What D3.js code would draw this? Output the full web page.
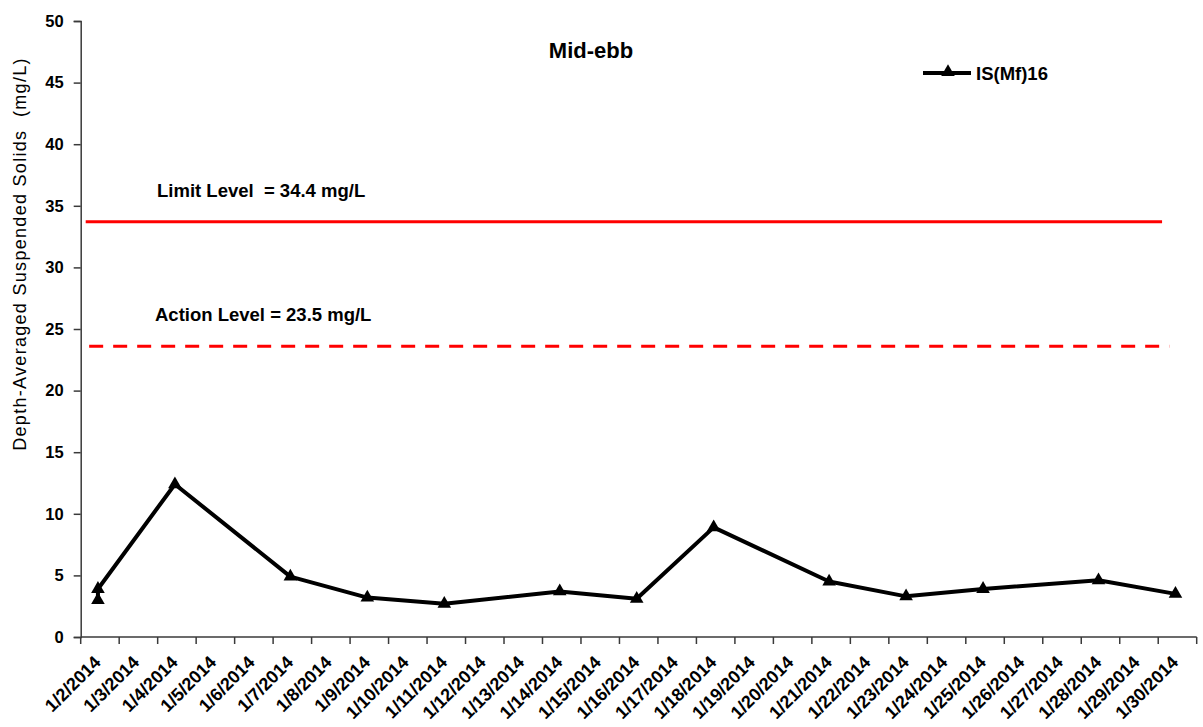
<!DOCTYPE html>
<html>
<head>
<meta charset="utf-8">
<script src="https://cdn.jsdelivr.net/npm/d3@7"></script>
<style>
  html, body { margin: 0; padding: 0; background: #fff; }
  svg { display: block; font-family: "Liberation Sans", Arial, sans-serif; }
</style>
</head>
<body>
<svg id="chart" width="1203" height="727"></svg>
<script>
// ---- Data ----
const categories = ["1/2/2014","1/3/2014","1/4/2014","1/5/2014","1/6/2014","1/7/2014","1/8/2014","1/9/2014","1/10/2014","1/11/2014","1/12/2014","1/13/2014","1/14/2014","1/15/2014","1/16/2014","1/17/2014","1/18/2014","1/19/2014","1/20/2014","1/21/2014","1/22/2014","1/23/2014","1/24/2014","1/25/2014","1/26/2014","1/27/2014","1/28/2014","1/29/2014","1/30/2014"];
const sampleDates = ["1/2/2014","1/2/2014","1/4/2014","1/7/2014","1/9/2014","1/11/2014","1/14/2014","1/16/2014","1/18/2014","1/21/2014","1/23/2014","1/25/2014","1/28/2014","1/30/2014"];
const sampleValues = [3.0, 3.9, 12.4, 4.9, 3.2, 2.7, 3.7, 3.1, 8.9, 4.5, 3.3, 3.9, 4.6, 3.5];
const seriesName = "IS(Mf)16";
const yTicks = [0, 5, 10, 15, 20, 25, 30, 35, 40, 45, 50];
const limitLevel = 33.7;   // drawn position
const actionLevel = 23.6;  // drawn position
const limitLabel = "Limit Level  = 34.4 mg/L";
const actionLabel = "Action Level = 23.5 mg/L";
const limitSpan = [0.13, 28.1];   // in category-index units
const actionSpan = [0.22, 28.29];
const chartTitle = "Mid-ebb";
const yTitle = "Depth-Averaged Suspended Solids  (mg/L)";

// ---- Layout ----
const svg = d3.select("#chart");
const pL = 80.7, pR = 1196.7, pT = 21, pB = 637;

const x = d3.scaleBand().domain(categories).range([pL, pR]).padding(0);
const xi = d3.scaleLinear().domain([0, categories.length]).range([pL, pR]);
const y = d3.scaleLinear().domain([0, 50]).range([pB, pT]);

const axisColor = "#3a3a3a";

// Y axis
const yAxis = svg.append("g")
  .attr("transform", `translate(${pL},0)`)
  .call(d3.axisLeft(y).tickValues(yTicks).tickSize(7).tickPadding(10).tickFormat(d3.format("d")));
yAxis.select(".domain").attr("stroke", axisColor).attr("stroke-width", 1.5);
yAxis.selectAll(".tick line").attr("stroke", axisColor).attr("stroke-width", 1.5);
yAxis.selectAll(".tick text")
  .attr("font-size", "16.5px").attr("font-weight", "bold").attr("fill", "#000")
  .attr("font-family", "Liberation Sans, Arial, sans-serif");

// X axis line
svg.append("line")
  .attr("x1", pL).attr("x2", pR).attr("y1", pB).attr("y2", pB)
  .attr("stroke", axisColor).attr("stroke-width", 1.5);

// X ticks at category boundaries
svg.append("g").selectAll("line")
  .data(d3.range(categories.length + 1))
  .join("line")
  .attr("x1", d => xi(d)).attr("x2", d => xi(d))
  .attr("y1", pB).attr("y2", pB + 7)
  .attr("stroke", axisColor).attr("stroke-width", 1.5);

// X labels
svg.append("g").selectAll("text")
  .data(categories)
  .join("text")
  .attr("transform", d => `translate(${x(d) + x.bandwidth() / 2 - 2.5},${pB + 22}) rotate(-45)`)
  .attr("text-anchor", "end")
  .attr("dy", "0.35em")
  .attr("font-size", "18px")
  .attr("font-weight", "bold")
  .attr("fill", "#000")
  .text(d => d);

// Reference lines
svg.append("line")
  .attr("x1", xi(limitSpan[0])).attr("x2", xi(limitSpan[1]))
  .attr("y1", y(limitLevel)).attr("y2", y(limitLevel))
  .attr("stroke", "#ff0000").attr("stroke-width", 3);
svg.append("line")
  .attr("x1", xi(actionSpan[0])).attr("x2", xi(actionSpan[1]))
  .attr("y1", y(actionLevel)).attr("y2", y(actionLevel))
  .attr("stroke", "#ff0000").attr("stroke-width", 3)
  .attr("stroke-dasharray", "14,10");

svg.append("text")
  .attr("x", 157).attr("y", 197)
  .attr("font-size", "18.5px").attr("font-weight", "bold").attr("fill", "#000")
  .style("white-space", "pre")
  .text(limitLabel);
svg.append("text")
  .attr("x", 155).attr("y", 321)
  .attr("font-size", "18.5px").attr("font-weight", "bold").attr("fill", "#000")
  .style("white-space", "pre")
  .text(actionLabel);

// Series
const pts = sampleDates.map((d, i) => ({ d, v: sampleValues[i] }));
const cx = p => x(p.d) + x.bandwidth() / 2 - 2;
svg.append("path")
  .datum(pts)
  .attr("fill", "none").attr("stroke", "#000").attr("stroke-width", 4)
  .attr("stroke-linejoin", "round")
  .attr("d", d3.line().x(cx).y(p => y(p.v)));

const tri = d3.symbol().type(d3.symbolTriangle).size(80);
svg.append("g").selectAll("path")
  .data(pts)
  .join("path")
  .attr("transform", p => `translate(${cx(p)},${y(p.v)})`)
  .attr("d", tri)
  .attr("fill", "#000");

// Title
svg.append("text")
  .attr("x", 591).attr("y", 58).attr("text-anchor", "middle")
  .attr("font-size", "22px").attr("font-weight", "bold").attr("fill", "#000")
  .text(chartTitle);

// Legend
svg.append("line")
  .attr("x1", 923).attr("x2", 971).attr("y1", 73).attr("y2", 73)
  .attr("stroke", "#000").attr("stroke-width", 4);
svg.append("path")
  .attr("transform", "translate(948,72)")
  .attr("d", tri).attr("fill", "#000");
svg.append("text")
  .attr("x", 976).attr("y", 80)
  .attr("font-size", "18.5px").attr("font-weight", "bold").attr("fill", "#000")
  .text(seriesName);

// Y title
svg.append("text")
  .attr("transform", `translate(26,254) rotate(-90)`)
  .attr("text-anchor", "middle")
  .attr("font-size", "18px").attr("letter-spacing", "1.3px").attr("fill", "#000")
  .style("white-space", "pre")
  .text(yTitle);
</script>
</body>
</html>
